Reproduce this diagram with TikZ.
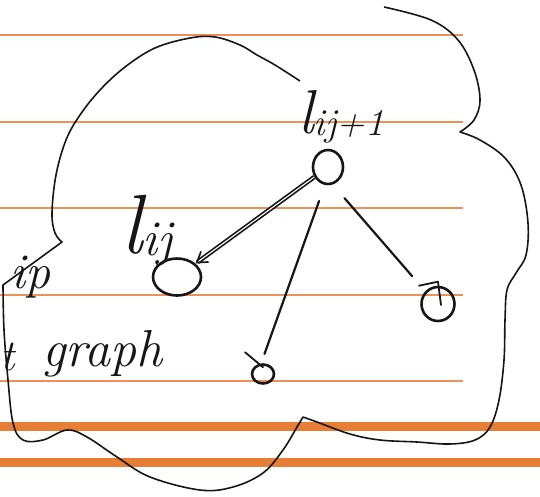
\documentclass[tikz,border=0pt]{standalone}
\usepackage{fontspec}
\usetikzlibrary{arrows.meta,shapes.geometric}
\definecolor{rulethick}{RGB}{231,126,54}
\definecolor{rulethin}{RGB}{236,146,88}
\definecolor{ink}{RGB}{22,22,22}
\newcommand{\subidx}[3]{{\fontsize{#1}{#1}\selectfont\itshape l}\raisebox{-0.22em}{\fontsize{#2}{#2}\selectfont\itshape #3}}
\tikzset{
  vtx/.style={draw=ink, ellipse, line width=2.6pt, inner sep=0pt, fill=none},
  edge/.style={draw=ink, line width=2.2pt, line cap=round},
  dbl/.style={draw=ink, double=white, double distance=1.1pt, line width=1.7pt,
              -{Straight Barb[length=10pt,width=13pt]}},
  tickmark/.style={draw=ink, line width=1.8pt, line cap=round},
  outline/.style={draw=ink, line width=1.6pt, line join=round},
  lbl/.style={text=ink, inner sep=0pt},
  hand/.style={text=ink, inner sep=0pt},
}
\begin{document}
\begin{tikzpicture}[x=1pt,y=-1pt]
\useasboundingbox (0,0) rectangle (540,496);
\fill[white] (0,0) rectangle (540,496);

% ruled paper
\foreach \yy in {35,122,208,295,381}
  \draw[rulethin, line width=2.2pt] (0,\yy) -- (463,\yy);
\foreach \yy in {426,462}
  \draw[rulethick, line width=9pt] (0,\yy) -- (540,\yy);

% the enclosing cloud
\draw[outline]
  plot[smooth, tension=0.6] coordinates {(384,7) (431,20) (458,40) (474,70) (480,100) (474,120) (460,132)}
  -- plot[smooth, tension=0.6] coordinates {(460,132) (480,140) (505,158) (521,185) (528,223) (526,255) (516,273) (507,290) (505,320) (504,360) (499,400) (490,427) (475,440) (450,444) (417,442) (380,440) (350,434) (317,422) (303,417)}
  -- plot[smooth, tension=0.6] coordinates {(303,417) (297,427) (283,450) (263,473) (233,487) (200,490) (150,477) (117,457) (87,437) (67,430) (43,440) (23,440) (13,423) (8,380) (4,330) (3,285)}
  -- (62,242)
  -- plot[smooth, tension=0.6] coordinates {(62,242) (55,233) (52,213) (56,175) (66,140) (80,115) (100,90) (125,67) (155,48) (190,38) (215,37) (240,45) (257,55) (275,65) (300,81)};

% vertices
\node[vtx, minimum width=30pt, minimum height=34pt] (top) at (328,167) {};
\node[vtx, minimum width=48pt, minimum height=37pt] (low) at (177,277) {};
\node[vtx, minimum width=33pt, minimum height=34pt] (rt)  at (438,304) {};
\node[vtx, minimum width=22pt, minimum height=19pt] (bot) at (263,374) {};

% small strokes on the vertices
\draw[tickmark] ([yshift=4pt]rt.north) -- ([xshift=3pt,yshift=-1pt]rt.center);
\draw[tickmark] ([xshift=-19pt]rt.north) -- ([yshift=4pt]rt.north);
\draw[tickmark] ([xshift=-18pt,yshift=11pt]bot.north) -- ([yshift=-4pt]bot.north);

% vertex labels
\node[lbl, anchor=base west] (lowlbl) at (121,253) {\subidx{84}{50}{ij}};
\node[lbl, anchor=base west] (toplbl) at (298,133) {\subidx{62}{38}{ij+1}};

% edges
\draw[dbl] (top) -- (low);
\draw[edge, shorten <=17pt, shorten >=10pt] (top.-100) -- (bot.100);
\draw[edge, shorten <=18pt, shorten >=20pt] (top.-75) -- (rt.135);

% side notes
\node[hand, anchor=base west, font=\itshape\fontsize{50}{50}\selectfont] (tipnote) at (10,288) {ip};
\node[hand, anchor=base west, font=\itshape\fontsize{44}{44}\selectfont] (tnote) at (0,370) {t};
\node[hand, anchor=base west, font=\itshape\fontsize{52}{52}\selectfont] (graphnote) at (42,366) {graph};
\end{tikzpicture}
\end{document}
